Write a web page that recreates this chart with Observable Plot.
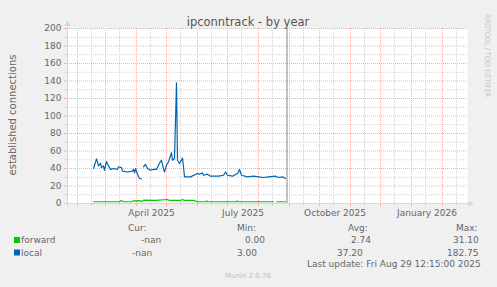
<!DOCTYPE html>
<html><head><meta charset="utf-8">
<script src="https://cdn.jsdelivr.net/npm/d3@7"></script>
<script src="https://cdn.jsdelivr.net/npm/@observablehq/plot@0.6"></script>
<style>
html,body{margin:0;padding:0;background:#f0f0f0;}
#chart{width:497px;height:287px;overflow:hidden}
svg{display:block}
</style></head><body><div id="chart"></div>
<script>
// ---- texts ----
const titleText = "ipconntrack - by year";
const yLabelText = "established connections";
const watermarkText = "RRDTOOL / TOBI OETIKER";
const footerText = "Munin 2.0.76";
const lastUpdateText = "Last update: Fri Aug 29 12:15:00 2025";

// ---- series / legend ----
const seriesNames = ["forward", "local"];
const seriesColors = ["#00cc00", "#0066b3"];
const legendHeaders = ["Cur:", "Min:", "Avg:", "Max:"];
const legendCur = ["-nan", "-nan"];
const legendMin = ["0.00", "3.00"];
const legendAvg = ["2.74", "37.20"];
const legendMax = ["31.10", "182.75"];

// ---- axes ----
const xDomain = ["2025-01-22", "2026-02-26"];
const nowTime = "2025-08-29T12:15:00";
const yTicks = [0, 20, 40, 60, 80, 100, 120, 140, 160, 180, 200];
const yMinorTicks = [10, 30, 50, 70, 90, 110, 130, 150, 170, 190];
const xLabels = ["April 2025", "July 2025", "October 2025", "January 2026"];
const xLabelDates = ["2025-04-16", "2025-07-16T12:00", "2025-10-16T12:00", "2026-01-16T12:00"];
const monthStarts = ["2025-02-01","2025-03-01","2025-04-01","2025-05-01","2025-06-01","2025-07-01","2025-08-01","2025-09-01","2025-10-01","2025-11-01","2025-12-01","2026-01-01","2026-02-01"];
const midMonths = ["2025-02-15","2025-03-15","2025-04-15","2025-05-15","2025-06-15","2025-07-15","2025-08-15","2025-09-15","2025-10-15","2025-11-15","2025-12-15","2026-01-15","2026-02-15"];

// ---- data: local ----
const localDates = ["2025-02-17","2025-02-20","2025-02-22","2025-02-24","2025-02-25","2025-02-27","2025-02-28","2025-03-02","2025-03-04","2025-03-06","2025-03-09","2025-03-13","2025-03-14","2025-03-17","2025-03-18","2025-03-23","2025-03-28","2025-03-29","2025-03-30","2025-03-31","2025-04-02","2025-04-04","2025-04-06","2025-04-07","2025-04-08","2025-04-10","2025-04-12","2025-04-15","2025-04-18","2025-04-21","2025-04-24","2025-04-26","2025-04-27","2025-04-29","2025-05-01","2025-05-03","2025-05-06","2025-05-07","2025-05-09","2025-05-11","2025-05-12","2025-05-14","2025-05-15","2025-05-17","2025-05-18","2025-05-19","2025-05-25","2025-06-01","2025-06-03","2025-06-06","2025-06-07","2025-06-11","2025-06-14","2025-06-22","2025-06-27","2025-06-29","2025-07-01","2025-07-06","2025-07-11","2025-07-13","2025-07-15","2025-07-21","2025-07-27","2025-08-01","2025-08-06","2025-08-11","2025-08-18","2025-08-21","2025-08-25","2025-08-28"];
const localValues = [40,51,43,46,41,43,38,48,43,39,40,39,42,41,37,36,37,39,35,40,33.5,28.6,28,null,42,44.6,40,38,39,39,46,49.5,44,36,44,47.6,58,49.5,51.4,138,49.5,45.7,47.6,52,42,30.4,30.4,34.3,33.5,35,32.3,33.5,31.2,31.2,32.3,36,32.3,31.2,34.3,38.8,32.3,30.4,31.2,30.4,29.7,30.4,31.2,29.7,30.4,28.6];

// ---- data: forward ----
const forwardDates = ["2025-02-17","2025-03-15","2025-03-17","2025-03-19","2025-03-27","2025-03-29","2025-04-03","2025-04-05","2025-04-06","2025-04-08","2025-04-20","2025-05-02","2025-05-04","2025-05-15","2025-05-17","2025-05-19","2025-05-28","2025-06-01","2025-06-09","2025-06-10","2025-06-11","2025-07-10","2025-07-11","2025-07-12","2025-08-16","2025-08-17","2025-08-19","2025-08-28"];
const forwardValues = [2,2,3.4,2,2,3,3.2,3,2,3.8,3.5,4.6,3.5,3.5,4.6,3.5,3.5,2,2,3,2,2,3,2,2,null,2,2];

// ---- build ----
const P = s => new Date(s + (s.length > 10 ? "Z" : "T00:00Z"));
const localData = localDates.map((d, i) => ({date: P(d), value: localValues[i]}));
const forwardData = forwardDates.map((d, i) => ({date: P(d), value: forwardValues[i]}));
const labelMap = new Map(xLabelDates.map((d, i) => [+P(d), xLabels[i]]));

const GRID = "#d4d4d4", MGRID = "#f0b0b0", AXIS = "#cfd6f8", FONT = "#666";

const chart = Plot.plot({
  width: 497, height: 287,
  marginLeft: 67, marginRight: 30, marginTop: 28, marginBottom: 84,
  style: {background: "transparent", fontFamily: "DejaVu Sans", fontSize: "9px", color: FONT, overflow: "visible"},
  x: {type: "utc", domain: xDomain.map(P)},
  y: {domain: [0, 200]},
  marks: [
    Plot.frame({fill: "white", stroke: null}),
    Plot.ruleX(midMonths.map(P), {stroke: GRID, strokeDasharray: "1,1"}),
    Plot.ruleY(yMinorTicks, {stroke: GRID, strokeDasharray: "1,1"}),
    Plot.ruleX(monthStarts.map(P), {stroke: MGRID, strokeDasharray: "1,1"}),
    Plot.ruleY(yTicks.filter(d => d > 0), {stroke: MGRID, strokeDasharray: "1,1"}),
    Plot.axisY(yMinorTicks, {tickSize: 2, tickFormat: () => "", stroke: "#c8c8c8", label: null}),
    Plot.axisY(yTicks, {tickSize: 3, tickPadding: 3, stroke: MGRID, fill: FONT, label: null}),
    Plot.axisX(midMonths.map(P), {tickSize: 2, tickFormat: () => "", stroke: "#c8c8c8", label: null}),
    Plot.axisX(monthStarts.map(P), {tickSize: 3, tickFormat: () => "", stroke: MGRID, label: null}),
    Plot.axisX(xLabelDates.map(P), {tickSize: 0, tickPadding: 6.5, tickFormat: d => labelMap.get(+d), fill: FONT, label: null}),
    Plot.line(forwardData, {x: "date", y: "value", stroke: seriesColors[0], strokeWidth: 1.2}),
    Plot.line(localData, {x: "date", y: "value", stroke: seriesColors[1], strokeWidth: 1.2}),
    Plot.ruleX([P(nowTime)], {stroke: "#888", y1: 0, y2: 200}),
    Plot.ruleX([P(xDomain[0])], {stroke: AXIS}),
    Plot.ruleY([0], {stroke: AXIS})
  ]
});
document.getElementById("chart").appendChild(chart);

const svg = d3.select(chart);
const xs = chart.scale("x"), ys = chart.scale("y");
const x0 = xs.apply(P(xDomain[0])) + 0.5, x1 = xs.apply(P(xDomain[1])) + 0.5;
const y0 = ys.apply(0) + 0.5, yTop = ys.apply(200) + 0.5;
const g = svg.append("g").attr("font-family", "DejaVu Sans").attr("fill", FONT).attr("text-anchor", "start");

// axis extensions and arrows
g.append("line").attr("x1", x0).attr("x2", x0).attr("y1", y0 + 3).attr("y2", yTop - 4).attr("stroke", AXIS);
g.append("line").attr("x1", x0 - 3).attr("x2", x1 + 1).attr("y1", y0).attr("y2", y0).attr("stroke", AXIS);
g.append("path").attr("d", `M${x0 - 3},${yTop - 2.5}L${x0 + 3},${yTop - 2.5}L${x0},${yTop - 8}Z`).attr("fill", AXIS);
g.append("path").attr("d", `M${x1 + 1},${y0 - 3}L${x1 + 1},${y0 + 3}L${x1 + 6.5},${y0}Z`).attr("fill", AXIS);

// title
g.append("text").attr("x", 248).attr("y", 25.5).attr("text-anchor", "middle").attr("font-size", 11.5).attr("fill", "#555").text(titleText);
// y label
g.append("text").attr("transform", "translate(15.5,115) rotate(-90)").attr("text-anchor", "middle").attr("font-size", 10).text(yLabelText);
// watermark
g.append("text").attr("transform", "translate(484.5,14) rotate(90)").attr("text-anchor", "start").attr("font-size", 7.5).attr("fill", "#c4c4c4").attr("textLength", 83).attr("lengthAdjust", "spacingAndGlyphs").text(watermarkText);

// legend
const hx = [128, 237, 348, 456];
legendHeaders.forEach((t, i) => g.append("text").attr("x", hx[i]).attr("y", 230.5).attr("font-size", 9).text(t));
const rowsY = [243, 255.5];
const sqY = [237, 249.5];
const colX = [[141, 245, 351, 453], [132, 237, 337, 447]];
seriesNames.forEach((name, i) => {
  g.append("rect").attr("x", 14).attr("y", sqY[i]).attr("width", 6).attr("height", 6).attr("fill", seriesColors[i]);
  g.append("text").attr("x", 21).attr("y", rowsY[i]).attr("font-size", 9).text(name);
  [legendCur[i], legendMin[i], legendAvg[i], legendMax[i]].forEach((v, j) =>
    g.append("text").attr("x", colX[i][j]).attr("y", rowsY[i]).attr("font-size", 9).text(v));
});
g.append("text").attr("x", 307).attr("y", 267).attr("font-size", 9).text(lastUpdateText);
g.append("text").attr("x", 248).attr("y", 277.5).attr("text-anchor", "middle").attr("font-size", 7).attr("fill", "#bdbdbd").text(footerText);
</script>
</body></html>
